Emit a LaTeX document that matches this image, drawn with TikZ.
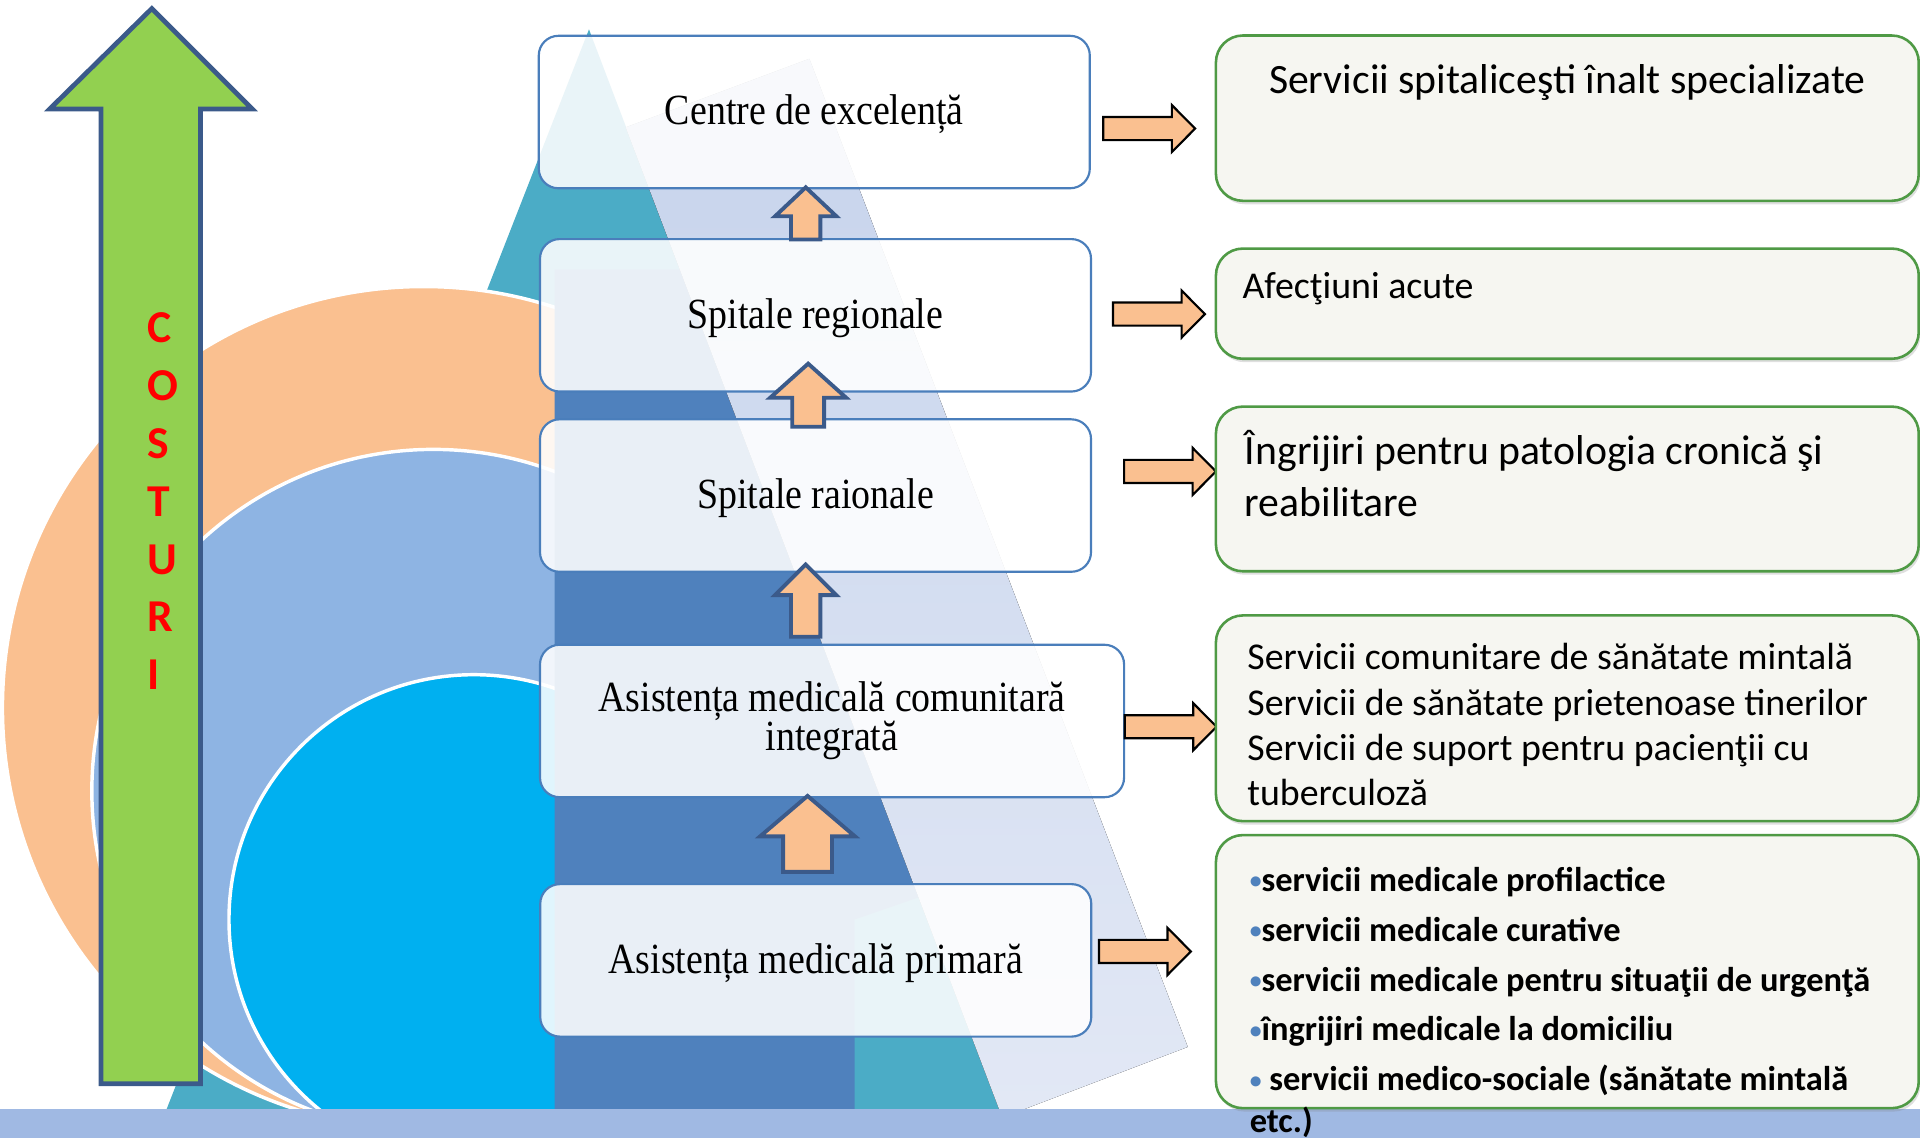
\documentclass[tikz,border=0pt]{standalone}
\usepackage{fontspec}
\setmainfont{Liberation Serif}
\newfontfamily\tierfont[FakeStretch=0.88]{Liberation Serif}
\newfontfamily\calib{Carlito}
\usetikzlibrary{shadows}

\definecolor{tealface}{HTML}{4BACC6}
\definecolor{darkblue}{HTML}{4F81BD}
\definecolor{midblue}{HTML}{8EB4E3}
\definecolor{cyanblue}{HTML}{00B0F0}
\definecolor{peach}{HTML}{FAC090}
\definecolor{lime}{HTML}{92D050}
\definecolor{navy}{HTML}{3B5A8A}
\definecolor{boxblue}{HTML}{4A7EBB}
\definecolor{boxgreen}{HTML}{4F9A45}
\definecolor{boxfill}{HTML}{F6F6F1}
\definecolor{band}{HTML}{A0B9E3}
\definecolor{lavtop}{HTML}{C6D3EC}
\definecolor{lavbot}{HTML}{E2E8F5}

\tikzset{
  tier/.style={draw=boxblue, line width=0.5pt, fill=white, fill opacity=0.88, text opacity=1,
    rounded corners=1.6mm, minimum width=45mm, minimum height=12.45mm, inner sep=0pt,
    align=center, font=\tierfont\fontsize{10}{9.1}\selectfont},
  onerow/.style={text height=8.2pt, text depth=2.2pt},
  service/.style={draw=boxgreen, line width=0.6pt, fill=boxfill, rounded corners=2.2mm,
    minimum width=57.4mm, inner sep=0pt,
    drop shadow={shadow xshift=0.4pt, shadow yshift=-0.8pt, opacity=0.25}},
  uparrow/.style={draw=navy, line width=0.9pt, fill=peach, line join=miter},
  rightarrow/.style={draw=black, line width=0.5pt, fill=peach, line join=miter},
  circ/.style={draw=white, line width=0.8pt},
  svtext/.style={anchor=base west, inner sep=0pt, font=\calib\fontsize{8.8}{10.5}\selectfont},
  bultext/.style={anchor=base west, inner sep=0pt, font=\calib\bfseries\fontsize{8}{10}\selectfont},
}

% x, tip y, bottom y, head base y, head half width, shaft half width
\newcommand{\uparr}[6]{%
  \filldraw[uparrow] (#1-#6,#3) -- (#1-#6,#4) -- (#1-#5,#4) -- (#1,#2)
    -- (#1+#5,#4) -- (#1+#6,#4) -- (#1+#6,#3) -- cycle;}
% left x, middle y
\newcommand{\rarr}[2]{%
  \filldraw[rightarrow] (#1,#2-9.4) -- ++(56,0) -- ++(0,-9.8) -- ++(19,19.2)
    -- ++(-19,19.2) -- ++(0,-9.8) -- ++(-56,0) -- cycle;}
\newcommand{\bul}{\textcolor{darkblue}{\raisebox{0.6pt}{\fontsize{5.5}{6}\selectfont •}}}

\begin{document}
\begin{tikzpicture}[x=0.1mm, y=-0.1mm]
  \useasboundingbox (0,0) rectangle (1568,929);
  \clip (0,0) rectangle (1568,929);

  % Pyramid
  \fill[tealface] (481,24) -- (136,906) -- (816,906) -- cycle;

  % Circles
  \filldraw[circ, fill=peach] (346,578) circle[radius=34.4mm];
  \filldraw[circ, fill=midblue] (354,646) circle[radius=27.9mm];
  \filldraw[circ, fill=cyanblue] (387,751) circle[radius=20mm];

  % Dark column and light face
  \fill[darkblue] (453,220) -- (700,220) -- (753,732) -- (698,751) -- (698,906) -- (453,906) -- cycle;
  \fill[top color=lavtop, bottom color=lavbot] (511,104) -- (661,48) -- (970,855) -- (836,906) -- (816,906) -- cycle;

  % Bottom band
  \fill[band] (0,905.5) rectangle (1568,929);

  % Cost arrow
  \filldraw[fill=lime, draw=navy, line width=1.1pt, line join=miter]
    (124,7) -- (206,89) -- (163.7,89) -- (163.7,885) -- (82.5,885) -- (82.5,89) -- (40.6,89) -- cycle;
  \foreach \ltr [count=\i from 0] in {C,O,S,T,U,R,I}
    \node[anchor=base west, inner sep=0pt, text=red, font=\calib\bfseries\fontsize{10.6}{12}\selectfont]
      (cost\i) at (120,280+47.2*\i) {\ltr};

  % Levels
  \node[tier, onerow] (l1) at (665,91.5) {Centre de excelență};
  \node[tier, onerow] (l2) at (666,257.5) {Spitale regionale};
  \node[tier, onerow] (l3) at (666,404.7) {Spitale raionale};
  \node[tier, minimum width=47.7mm] (l4) at (679.5,588.8) {Asistența medicală comunitară\\integrată};
  \node[tier, onerow] (l5) at (666.2,784.3) {Asistența medicală primară};

  % Up arrows
  \uparr{658}{153}{195.6}{176.6}{25}{12}
  \uparr{660}{297}{348.5}{324.8}{31}{13}
  \uparr{658}{461}{520}{486}{25}{12}
  \uparr{659.5}{650}{712}{683}{38.7}{20}

  % Right arrows
  \rarr{901}{105}
  \rarr{909}{256.5}
  \rarr{918}{385}
  \rarr{918.5}{593.5}
  \rarr{897.5}{777}

  % Services
  \node[service, minimum height=13.5mm] (r1) at (1280,96.5) {};
  \node[service, minimum height=9mm] (r2) at (1280,248) {};
  \node[service, minimum height=13.45mm] (r3) at (1280,399.3) {};
  \node[service, minimum height=16.8mm] (r4) at (1280,586.6) {};
  \node[service, minimum height=22.3mm] (r5) at (1280,793.5) {};

  \node[svtext, anchor=base, font=\calib\fontsize{9.7}{12}\selectfont] (s1) at (1280,76.6)
    {Servicii spitaliceşti înalt specializate};
  \node[svtext] (s2) at (1014,244) {Afecţiuni acute};
  \node[svtext, font=\calib\fontsize{9.7}{12}\selectfont] (s3a) at (1016,379)
    {Îngrijiri pentru patologia cronică şi};
  \node[svtext, font=\calib\fontsize{9.7}{12}\selectfont] (s3b) at (1016,422) {reabilitare};
  \foreach \ln [count=\i from 0] in {Servicii comunitare de sănătate mintală,
      Servicii de sănătate prietenoase tinerilor,
      Servicii de suport pentru pacienţii cu, tuberculoză}
    \node[svtext] (s4\i) at (1018,547+37*\i) {\ln};
  \foreach \ln [count=\i from 0] in {\bul servicii medicale profilactice,
      \bul servicii medicale curative,
      \bul servicii medicale pentru situaţii de urgenţă,
      \bul îngrijiri medicale la domiciliu,
      \bul\ servicii medico-sociale (sănătate mintală}
    \node[bultext] (s5\i) at (1020,728+40.7*\i) {\ln};
  \node[bultext] (s5x) at (1020,924.5) {etc.)};
\end{tikzpicture}
\end{document}
